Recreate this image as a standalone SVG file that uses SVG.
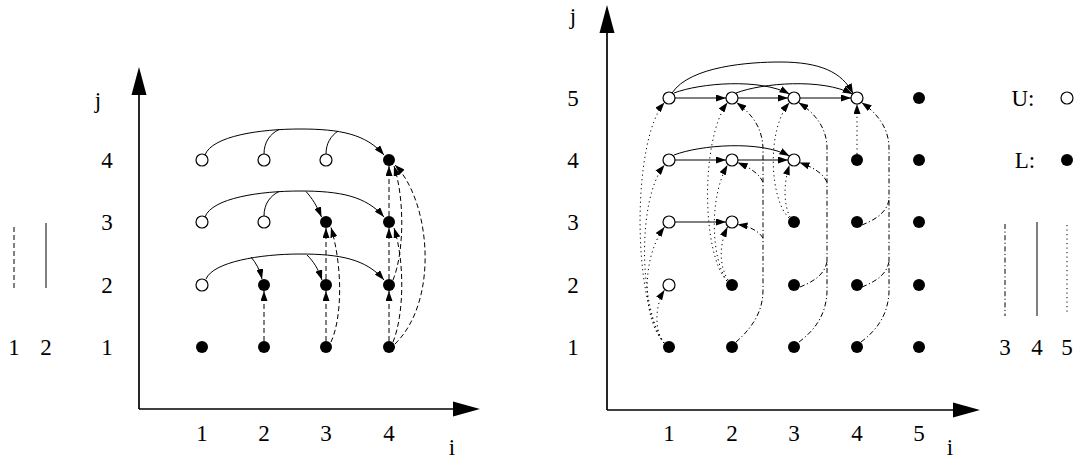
<svg xmlns="http://www.w3.org/2000/svg" width="1079" height="460" viewBox="0 0 1079 460">
<style>
text{font-family:"Liberation Serif","Times New Roman",serif;font-size:23px;fill:#000;text-anchor:middle}
.ax{stroke:#000;stroke-width:1.7;fill:none}
.ah{fill:#000;stroke:none}
.e{fill:none;stroke:#000;stroke-width:1}
.d{stroke-dasharray:5 3}
.o{stroke-dasharray:1.2 3.3}
.dd{stroke-dasharray:5 2.5 1.2 2.5}
.a{marker-end:url(#arr)}
.u{fill:#fff;stroke:#000;stroke-width:1.2}
.l{fill:#000;stroke:none}
</style>
<defs>
<marker id="arr" markerUnits="userSpaceOnUse" viewBox="0 0 10 7" markerWidth="10" markerHeight="7" refX="10" refY="3.5" orient="auto">
<path d="M0,0 L10,3.5 L0,7 z" fill="#000" stroke="none"/>
</marker>
</defs>

<g id="left-axes">
<line class="ax" x1="139" y1="95" x2="139" y2="409"/>
<polygon class="ah" points="139,67 131.5,95 146.5,95"/>
<line class="ax" x1="139" y1="409" x2="453" y2="409"/>
<polygon class="ah" points="480,409 453,401.5 453,416.5"/>
<text x="98" y="108">j</text>
<text x="452" y="455">i</text>
<text x="107" y="168">4</text>
<text x="107" y="230">3</text>
<text x="107" y="293">2</text>
<text x="107" y="355">1</text>
<text x="202" y="441">1</text>
<text x="264" y="441">2</text>
<text x="326" y="441">3</text>
<text x="389" y="441">4</text>
</g>

<g id="left-legend">
<line class="e d" x1="14" y1="227" x2="14" y2="288"/>
<line class="e" x1="46" y1="223" x2="46" y2="288"/>
<text x="14" y="355">1</text>
<text x="46" y="355">2</text>
</g>

<g id="left-connectors">
<path class="e" d="M205,155 C212,136 260,129 300,129 C340,129 366,134 384,155" marker-end="url(#arr)"/>
<path class="e" d="M264,154 C264,142 270,134 279,129.5"/>
<path class="e" d="M326,154 C326,143 331,136 338,131"/>
<path class="e" d="M205,217 C212,198 260,191 300,191 C340,191 366,196 384,217" marker-end="url(#arr)"/>
<path class="e" d="M264,216 C264,204 270,196 279,191.5"/>
<path class="e" d="M306,191.5 C312,198 317,206 321.5,217" marker-end="url(#arr)"/>
<path class="e" d="M206,279 C213,262 260,254 300,254 C340,254 366,259 384,280" marker-end="url(#arr)"/>
<path class="e" d="M251,257 C256,263 260,270 262,279" marker-end="url(#arr)"/>
<path class="e" d="M307,255 C313,261 318,268 322,280" marker-end="url(#arr)"/>
<path class="e d a" d="M264,341 L264,291"/>
<path class="e d a" d="M326,341 L326,291"/>
<path class="e d a" d="M326,279 L326,228"/>
<path class="e d a" d="M331,342 C342,318 343,268 331,227.5"/>
<path class="e d a" d="M389,341 L389,291"/>
<path class="e d a" d="M389,279 L389,228"/>
<path class="e d a" d="M389,216 L389,166"/>
<path class="e d a" d="M393,342 C404,315 405,262 394,228"/>
<path class="e d a" d="M393,280 C404,253 405,200 394,166"/>
<path class="e d a" d="M395,344 C440,300 430,200 395,165"/>
</g>

<g id="L-1-1"><circle class="l" cx="202" cy="347" r="6"/></g>
<g id="L-2-1"><circle class="l" cx="264" cy="347" r="6"/></g>
<g id="L-3-1"><circle class="l" cx="326" cy="347" r="6"/></g>
<g id="L-4-1"><circle class="l" cx="389" cy="347" r="6"/></g>
<g id="L-1-2"><circle class="u" cx="202" cy="285" r="6"/></g>
<g id="L-2-2"><circle class="l" cx="264" cy="285" r="6"/></g>
<g id="L-3-2"><circle class="l" cx="326" cy="285" r="6"/></g>
<g id="L-4-2"><circle class="l" cx="389" cy="285" r="6"/></g>
<g id="L-1-3"><circle class="u" cx="202" cy="222" r="6"/></g>
<g id="L-2-3"><circle class="u" cx="264" cy="222" r="6"/></g>
<g id="L-3-3"><circle class="l" cx="326" cy="222" r="6"/></g>
<g id="L-4-3"><circle class="l" cx="389" cy="222" r="6"/></g>
<g id="L-1-4"><circle class="u" cx="202" cy="160" r="6"/></g>
<g id="L-2-4"><circle class="u" cx="264" cy="160" r="6"/></g>
<g id="L-3-4"><circle class="u" cx="326" cy="160" r="6"/></g>
<g id="L-4-4"><circle class="l" cx="389" cy="160" r="6"/></g>

<g id="right-axes">
<line class="ax" x1="607" y1="33" x2="607" y2="410"/>
<polygon class="ah" points="607,5 599.5,33 614.5,33"/>
<line class="ax" x1="607" y1="410" x2="953" y2="410"/>
<polygon class="ah" points="980,410 953,402.5 953,417.5"/>
<text x="573" y="24">j</text>
<text x="950" y="455">i</text>
<text x="573" y="106">5</text>
<text x="573" y="168">4</text>
<text x="573" y="230">3</text>
<text x="573" y="293">2</text>
<text x="573" y="355">1</text>
<text x="669" y="441">1</text>
<text x="732" y="441">2</text>
<text x="794" y="441">3</text>
<text x="857" y="441">4</text>
<text x="919" y="441">5</text>
</g>

<g id="right-legend">
<text x="1023" y="106">U:</text>
<text x="1025" y="168">L:</text>
<circle class="u" cx="1067" cy="98" r="6"/>
<circle class="l" cx="1067" cy="160" r="6"/>
<line class="e dd" x1="1005" y1="224" x2="1005" y2="316"/>
<line class="e" x1="1037" y1="222" x2="1037" y2="316"/>
<line class="e o" x1="1067" y1="225" x2="1067" y2="315"/>
<text x="1005" y="355">3</text>
<text x="1037" y="355">4</text>
<text x="1067" y="355">5</text>
</g>

<g id="right-connectors">
<path class="e a" d="M675,98 L726,98"/>
<path class="e a" d="M738,98 L788,98"/>
<path class="e a" d="M800,98 L851,98"/>
<path class="e a" d="M674,93 C700,83 760,78 789.5,94"/>
<path class="e a" d="M736,93 C762,83 822,78 852.5,94"/>
<path class="e a" d="M672,93 C690,66 750,62 780,62 C820,62 842,72 853,93.5"/>
<path class="e a" d="M675,160 L726,160"/>
<path class="e a" d="M738,160 L788,160"/>
<path class="e a" d="M674,155 C700,145 760,140 789.5,156"/>
<path class="e a" d="M675,222 L726,222"/>

<path class="e o a" d="M664,343 C654,330 655,305 664.5,290"/>
<path class="e o a" d="M664,343 C643,320 640,260 664.5,227"/>
<path class="e o a" d="M664,343 C640,310 636,200 664.5,165"/>
<path class="e o a" d="M664,343 C632,300 632,140 664.5,102.5"/>
<path class="e o a" d="M728,280 C719,265 719,245 727.5,227"/>
<path class="e o a" d="M727,281 C712,260 708,200 727.5,165"/>
<path class="e o a" d="M727,281 C702,255 700,140 727.5,102.5"/>
<path class="e o a" d="M790,217 C784,205 783,185 789.5,165"/>
<path class="e o a" d="M789,218 C770,200 766,130 789.5,102.5"/>
<path class="e o a" d="M857,154 L857,104"/>

<path class="e dd a" d="M736,342 C752,328 763,312 763,290 L763,150 C763,128 752,114 736.5,102.5"/>
<path class="e dd a" d="M763,182 C758,172 748,167 737.5,162.5"/>
<path class="e dd a" d="M763,238 C758,230 748,226 737.5,224.5"/>
<path class="e dd a" d="M799,342 C815,330 826,315 827,292 L827,148 C827,128 815,113 798.5,102.5"/>
<path class="e dd" d="M800,287 C812,282 824,276 827,262"/>
<path class="e dd a" d="M827,182 C822,172 812,167 799.5,162.5"/>
<path class="e dd a" d="M861,342 C877,330 888,315 889,292 L889,148 C889,128 877,113 861.5,102.5"/>
<path class="e dd" d="M862,287 C874,282 886,276 889,262"/>
<path class="e dd" d="M862,225 C874,220 886,214 889,200"/>
</g>

<g id="R-1-1"><circle class="l" cx="669" cy="347" r="6"/></g>
<g id="R-2-1"><circle class="l" cx="732" cy="347" r="6"/></g>
<g id="R-3-1"><circle class="l" cx="794" cy="347" r="6"/></g>
<g id="R-4-1"><circle class="l" cx="857" cy="347" r="6"/></g>
<g id="R-5-1"><circle class="l" cx="919" cy="347" r="6"/></g>
<g id="R-1-2"><circle class="u" cx="669" cy="285" r="6"/></g>
<g id="R-2-2"><circle class="l" cx="732" cy="285" r="6"/></g>
<g id="R-3-2"><circle class="l" cx="794" cy="285" r="6"/></g>
<g id="R-4-2"><circle class="l" cx="857" cy="285" r="6"/></g>
<g id="R-5-2"><circle class="l" cx="919" cy="285" r="6"/></g>
<g id="R-1-3"><circle class="u" cx="669" cy="222" r="6"/></g>
<g id="R-2-3"><circle class="u" cx="732" cy="222" r="6"/></g>
<g id="R-3-3"><circle class="l" cx="794" cy="222" r="6"/></g>
<g id="R-4-3"><circle class="l" cx="857" cy="222" r="6"/></g>
<g id="R-5-3"><circle class="l" cx="919" cy="222" r="6"/></g>
<g id="R-1-4"><circle class="u" cx="669" cy="160" r="6"/></g>
<g id="R-2-4"><circle class="u" cx="732" cy="160" r="6"/></g>
<g id="R-3-4"><circle class="u" cx="794" cy="160" r="6"/></g>
<g id="R-4-4"><circle class="l" cx="857" cy="160" r="6"/></g>
<g id="R-5-4"><circle class="l" cx="919" cy="160" r="6"/></g>
<g id="R-1-5"><circle class="u" cx="669" cy="98" r="6"/></g>
<g id="R-2-5"><circle class="u" cx="732" cy="98" r="6"/></g>
<g id="R-3-5"><circle class="u" cx="794" cy="98" r="6"/></g>
<g id="R-4-5"><circle class="u" cx="857" cy="98" r="6"/></g>
<g id="R-5-5"><circle class="l" cx="919" cy="98" r="6"/></g>
</svg>
